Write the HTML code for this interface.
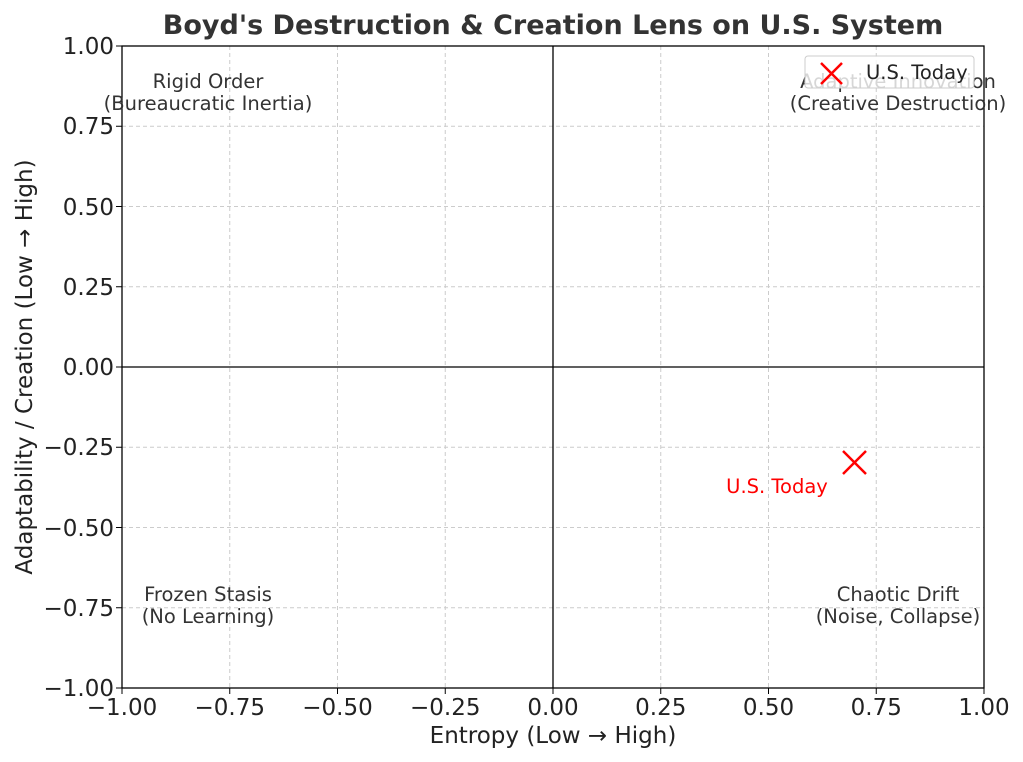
<!DOCTYPE html>
<html><head><meta charset="utf-8"><style>
html,body{margin:0;padding:0;background:#fff;}
svg{display:block;font-family:"DejaVu Sans","Liberation Sans",sans-serif;}
</style></head><body>
<svg width="1023" height="762" viewBox="0 0 1023 762" xmlns="http://www.w3.org/2000/svg">
<rect width="1023" height="762" fill="#fff"/>
<g stroke="#cccccc" stroke-width="1" stroke-dasharray="4,3">
<line x1="229.75" y1="46" x2="229.75" y2="688"/>
<line x1="337.5" y1="46" x2="337.5" y2="688"/>
<line x1="445.25" y1="46" x2="445.25" y2="688"/>
<line x1="553" y1="46" x2="553" y2="688"/>
<line x1="660.75" y1="46" x2="660.75" y2="688"/>
<line x1="768.5" y1="46" x2="768.5" y2="688"/>
<line x1="876.25" y1="46" x2="876.25" y2="688"/>
<line x1="122" y1="126.25" x2="984" y2="126.25"/>
<line x1="122" y1="206.5" x2="984" y2="206.5"/>
<line x1="122" y1="286.75" x2="984" y2="286.75"/>
<line x1="122" y1="447.25" x2="984" y2="447.25"/>
<line x1="122" y1="527.5" x2="984" y2="527.5"/>
<line x1="122" y1="607.75" x2="984" y2="607.75"/>
</g>
<line x1="553" y1="46" x2="553" y2="688" stroke="#000" stroke-width="1.3"/>
<line x1="122" y1="367" x2="984" y2="367" stroke="#000" stroke-width="1.3"/>
<rect x="122" y="46" width="862" height="642" fill="none" stroke="#000" stroke-width="1.3"/>
<g stroke="#000" stroke-width="1">
<line x1="122" y1="688" x2="122" y2="694"/><line x1="229.75" y1="688" x2="229.75" y2="694"/><line x1="337.5" y1="688" x2="337.5" y2="694"/><line x1="445.25" y1="688" x2="445.25" y2="694"/><line x1="553" y1="688" x2="553" y2="694"/><line x1="660.75" y1="688" x2="660.75" y2="694"/><line x1="768.5" y1="688" x2="768.5" y2="694"/><line x1="876.25" y1="688" x2="876.25" y2="694"/><line x1="984" y1="688" x2="984" y2="694"/>
<line x1="116" y1="46" x2="122" y2="46"/><line x1="116" y1="126.25" x2="122" y2="126.25"/><line x1="116" y1="206.5" x2="122" y2="206.5"/><line x1="116" y1="286.75" x2="122" y2="286.75"/><line x1="116" y1="367" x2="122" y2="367"/><line x1="116" y1="447.25" x2="122" y2="447.25"/><line x1="116" y1="527.5" x2="122" y2="527.5"/><line x1="116" y1="607.75" x2="122" y2="607.75"/><line x1="116" y1="688" x2="122" y2="688"/>
</g>
<g font-size="23" fill="#222" text-anchor="middle">
<text x="122" y="715">−1.00</text><text x="229.75" y="715">−0.75</text><text x="337.5" y="715">−0.50</text><text x="445.25" y="715">−0.25</text><text x="553" y="715">0.00</text><text x="660.75" y="715">0.25</text><text x="768.5" y="715">0.50</text><text x="876.25" y="715">0.75</text><text x="984" y="715">1.00</text>
</g>
<g font-size="23" fill="#222" text-anchor="end">
<text x="114" y="54">1.00</text><text x="114" y="134">0.75</text><text x="114" y="215">0.50</text><text x="114" y="295">0.25</text><text x="114" y="375">0.00</text><text x="114" y="455">−0.25</text><text x="114" y="536">−0.50</text><text x="114" y="616">−0.75</text><text x="114" y="696">−1.00</text>
</g>
<text x="553" y="743" font-size="23" fill="#222" text-anchor="middle">Entropy (Low → High)</text>
<text transform="translate(32,367) rotate(-90)" font-size="23" fill="#222" text-anchor="middle">Adaptability / Creation (Low → High)</text>
<text x="553" y="34" font-size="27" font-weight="bold" fill="#333" text-anchor="middle">Boyd's Destruction &amp; Creation Lens on U.S. System</text>
<g font-size="19.5" fill="#333" text-anchor="middle">
<text x="208" y="88">Rigid Order</text><text x="208" y="110">(Bureaucratic Inertia)</text>
<text x="898" y="88">Adaptive Innovation</text><text x="898" y="110">(Creative Destruction)</text>
<text x="208" y="601">Frozen Stasis</text><text x="208" y="623">(No Learning)</text>
<text x="898" y="601">Chaotic Drift</text><text x="898" y="623">(Noise, Collapse)</text>
</g>
<g stroke="#ff0000" stroke-width="2.5">
<line x1="843" y1="451" x2="866" y2="474"/><line x1="843" y1="474" x2="866" y2="451"/>
</g>
<text x="777" y="493" font-size="19.5" fill="#ff0000" text-anchor="middle">U.S. Today</text>
<rect x="805" y="56" width="169" height="32" rx="3" fill="#fff" fill-opacity="0.8" stroke="#ccc"/>
<g stroke="#ff0000" stroke-width="2.5">
<line x1="821" y1="63" x2="842" y2="84"/><line x1="821" y1="84" x2="842" y2="63"/>
</g>
<text x="866" y="79" font-size="19.5" fill="#222">U.S. Today</text>
</svg>
</body></html>
